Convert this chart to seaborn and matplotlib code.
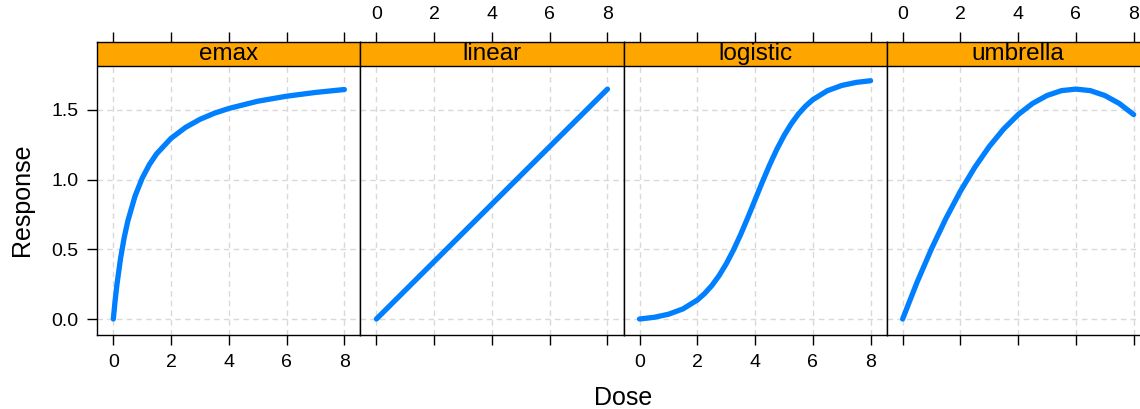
import pandas as pd
import seaborn as sns
import matplotlib.pyplot as plt

# Panel names (lattice strips)
models = ["emax", "linear", "logistic", "umbrella"]

# Values
emax_dose = [0, 0.0625, 0.125, 0.25, 0.375, 0.5, 0.75, 1, 1.25, 1.5, 2, 2.5, 3, 3.5, 4, 5, 6, 7, 8]
emax_resp = [0, 0.133, 0.247, 0.435, 0.583, 0.702, 0.881, 1.011, 1.109, 1.186, 1.297, 1.375,
             1.433, 1.477, 1.511, 1.563, 1.599, 1.626, 1.647]

linear_dose = [0, 2, 4, 6, 8]
linear_resp = [0, 0.4125, 0.825, 1.2375, 1.65]

logistic_dose = [0, 0.5, 1, 1.5, 2, 2.25, 2.5, 2.75, 3, 3.25, 3.5, 3.75, 4, 4.25, 4.5, 4.75,
                 5, 5.25, 5.5, 5.75, 6, 6.5, 7, 7.5, 8]
logistic_resp = [0, 0.012, 0.034, 0.072, 0.136, 0.182, 0.239, 0.310, 0.395, 0.494, 0.606,
                 0.728, 0.855, 0.982, 1.104, 1.216, 1.315, 1.400, 1.471, 1.528, 1.574,
                 1.638, 1.676, 1.698, 1.710]

umbrella_dose = [0, 0.5, 1, 1.5, 2, 2.5, 3, 3.5, 4, 4.5, 5, 5.5, 6, 6.5, 7, 7.5, 8]
umbrella_resp = [0, 0.264, 0.504, 0.722, 0.917, 1.089, 1.238, 1.364, 1.467, 1.547, 1.604,
                 1.639, 1.650, 1.639, 1.604, 1.547, 1.467]

x_ticks = [0, 2, 4, 6, 8]
y_ticks = [0.0, 0.5, 1.0, 1.5]


def build_frame():
    parts = []
    for name, d, r in zip(models,
                          [emax_dose, linear_dose, logistic_dose, umbrella_dose],
                          [emax_resp, linear_resp, logistic_resp, umbrella_resp]):
        parts.append(pd.DataFrame({"model": name, "dose": d, "response": r}))
    return pd.concat(parts, ignore_index=True)


def main():
    df = build_frame()

    sns.set_style("white")
    plt.rcParams["font.family"] = ["Liberation Sans", "DejaVu Sans"]
    plt.rcParams["text.color"] = "black"

    W, H = 1140, 409
    fig = plt.figure(figsize=(W / 100, H / 100), dpi=100)

    # panel geometry in pixels (lattice layout, last panel runs off the right edge)
    left0, pw = 97.3, 263.1
    top_px, bot_px = 42, 335
    strip_bottom = 1.816
    xlim = (-0.555, 8.555)
    ylim = (-0.1148, 1.988)

    for i, name in enumerate(models):
        ax = fig.add_axes([(left0 + i * pw) / W, (H - bot_px) / H, pw / W, (bot_px - top_px) / H])
        sub = df[df["model"] == name]

        ax.set_axisbelow(True)
        ax.grid(True, color="#d9d9d9", linestyle=(0, (4, 3)), linewidth=1.0)
        sns.lineplot(data=sub, x="dose", y="response", ax=ax, color="#0080ff",
                     linewidth=3.8, zorder=2)

        # strip
        ax.axhspan(strip_bottom, ylim[1], color="#ffa500", zorder=3, linewidth=0)
        ax.axhline(strip_bottom, color="black", linewidth=1.0, zorder=4)
        ax.text(0.5, (strip_bottom + ylim[1]) / 2, name, transform=ax.get_yaxis_transform(),
                ha="center", va="center", fontsize=17.5, color="black", zorder=5)

        ax.set_xlim(*xlim)
        ax.set_ylim(*ylim)
        ax.set_xticks(x_ticks)
        ax.set_yticks(y_ticks)
        ax.set_xlabel("")
        ax.set_ylabel("")

        ax.tick_params(direction="out", length=7.2, width=1.0, colors="black",
                       labelsize=14, pad=6.5)
        ax.tick_params(axis="x", top=True, bottom=True,
                       labeltop=(i % 2 == 1), labelbottom=(i % 2 == 0))
        ax.tick_params(axis="y", left=(i == 0), labelleft=(i == 0),
                       right=(i == len(models) - 1), labelright=False)

        for sp in ax.spines.values():
            sp.set_color("black")
            sp.set_linewidth(1.0)
            sp.set_zorder(6)

    fig.text((left0 + 2 * pw) / W, 1 - 398 / H, "Dose", ha="center", va="center",
             fontsize=18, color="black")
    fig.text(22 / W, 1 - 200 / H, "Response", ha="center", va="center", rotation=90,
             fontsize=18, color="black")

    fig.savefig("out.png", dpi=100)
    plt.close(fig)


if __name__ == "__main__":
    main()
